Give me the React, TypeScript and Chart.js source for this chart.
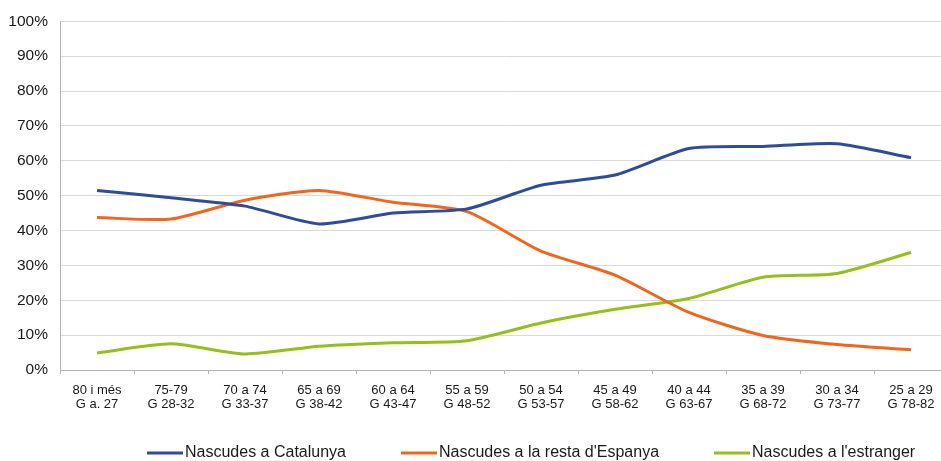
import React, { useEffect, useRef } from 'react';
import { Chart, registerables } from 'chart.js';

Chart.register(...registerables);

const categories: string[][] = [
  ['80 i més', 'G a. 27'],
  ['75-79', 'G 28-32'],
  ['70 a 74', 'G 33-37'],
  ['65 a 69', 'G 38-42'],
  ['60 a 64', 'G 43-47'],
  ['55 a 59', 'G 48-52'],
  ['50 a 54', 'G 53-57'],
  ['45 a 49', 'G 58-62'],
  ['40 a 44', 'G 63-67'],
  ['35 a 39', 'G 68-72'],
  ['30 a 34', 'G 73-77'],
  ['25 a 29', 'G 78-82'],
];

const catalunya = [51.5, 49.4, 47.0, 41.9, 45.0, 46.2, 53.0, 55.9, 63.5, 64.1, 64.9, 60.9];
const restaEspanya = [43.7, 43.3, 48.7, 51.5, 48.1, 45.4, 34.1, 27.2, 16.5, 9.9, 7.3, 5.8];
const estranger = [4.9, 7.5, 4.6, 6.8, 7.8, 8.4, 13.5, 17.4, 20.5, 26.6, 27.7, 33.7];

const seriesNames = ['Nascudes a Catalunya', "Nascudes a la resta d'Espanya", "Nascudes a l'estranger"];
const seriesColors = ['#2E4C9C', '#F0661F', '#97BF1A'];

const FONT = '"Liberation Sans", Arial, sans-serif';

const legendPlugin = {
  id: 'customLegend',
  afterDraw(chart: any) {
    const ctx = chart.ctx as CanvasRenderingContext2D;
    ctx.save();
    ctx.font = `16px ${FONT}`;
    ctx.textBaseline = 'middle';
    let x = 147;
    const y = 453;
    chart.data.datasets.forEach((ds: any) => {
      ctx.strokeStyle = ds.borderColor;
      ctx.lineWidth = 3;
      ctx.beginPath();
      ctx.moveTo(x, y);
      ctx.lineTo(x + 36, y);
      ctx.stroke();
      x += 38;
      ctx.fillStyle = '#1a1a1a';
      ctx.fillText(ds.label, x, y);
      x += ctx.measureText(ds.label).width + 55;
    });
    ctx.restore();
  },
};

export default function App() {
  const ref = useRef<HTMLCanvasElement | null>(null);

  useEffect(() => {
    if (!ref.current) return;
    const values = [catalunya, restaEspanya, estranger];
    const chart = new Chart(ref.current, {
      type: 'line',
      data: {
        labels: categories,
        datasets: values.map((v, i) => ({
          label: seriesNames[i],
          data: v,
          borderColor: seriesColors[i],
          backgroundColor: seriesColors[i],
          borderWidth: 3,
          pointRadius: 0,
          tension: 0.22,
          fill: false,
        })),
      },
      options: {
        responsive: false,
        animation: false,
        layout: { padding: { top: 19.5, left: 0, right: 0, bottom: 0 } },
        plugins: {
          legend: { display: false },
          tooltip: { enabled: false },
        },
        scales: {
          x: {
            type: 'category',
            offset: true,
            grid: {
              display: true,
              drawOnChartArea: false,
              drawTicks: true,
              tickLength: 4,
              color: '#b3b3b3',
              offset: true,
            },
            border: { color: '#b3b3b3', width: 1 },
            ticks: {
              color: '#1a1a1a',
              font: { family: FONT, size: 13, lineHeight: 1.1 },
              padding: 9,
              maxRotation: 0,
              autoSkip: false,
            },
            afterFit: (scale: any) => {
              scale.height = 91;
            },
          },
          y: {
            min: 0,
            max: 100,
            grid: { color: '#d9d9d9', drawTicks: false },
            border: { color: '#b3b3b3', width: 1 },
            ticks: {
              stepSize: 10,
              padding: 12,
              color: '#1a1a1a',
              font: { family: FONT, size: 15.5 },
              callback: (v: any) => `${v}%`,
            },
            afterFit: (scale: any) => {
              scale.width = 60;
            },
          },
        },
      },
      plugins: [legendPlugin],
    });
    return () => chart.destroy();
  }, []);

  return (
    <div style={{ position: 'absolute', left: 0, top: 0, width: 941, height: 461, overflow: 'hidden', background: '#fff' }}>
      <canvas ref={ref} width={948} height={461} style={{ width: 948, height: 461, display: 'block' }} />
    </div>
  );
}
